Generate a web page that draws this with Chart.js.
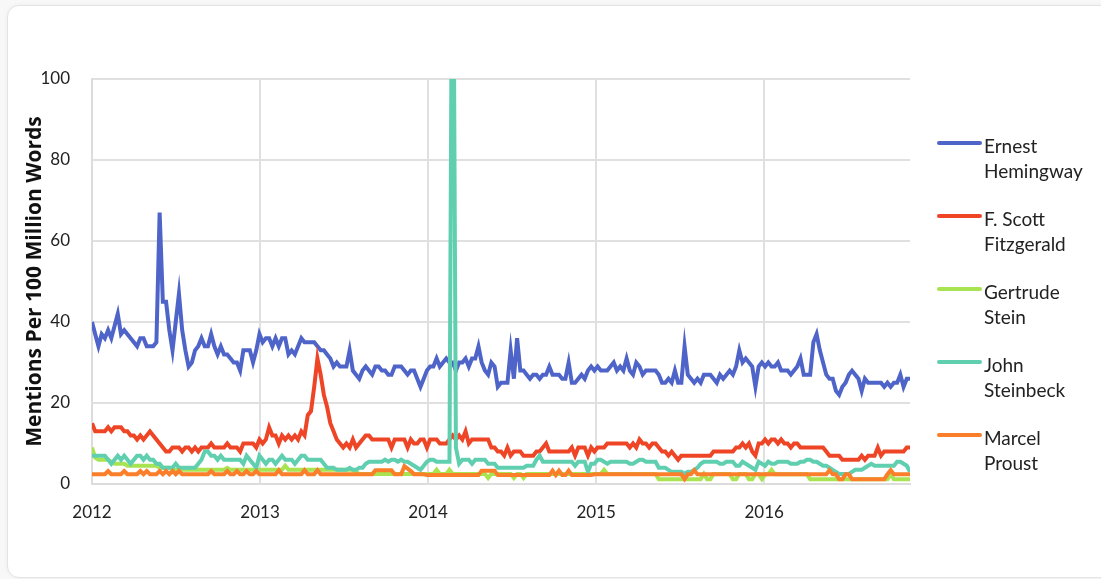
<!DOCTYPE html>
<html><head><meta charset="utf-8">
<script src="https://cdn.jsdelivr.net/npm/chart.js@4.4.0/dist/chart.umd.min.js"></script>
<style>
html,body{margin:0;padding:0;background:#f8f8f8;width:1101px;height:579px;overflow:hidden;}
.card{position:absolute;left:7px;top:5px;width:1120px;height:571px;background:#fff;border:1px solid #e4e4e4;border-radius:12px;box-shadow:0 0 4px rgba(0,0,0,0.05);}
canvas{position:absolute;left:0;top:0;}
</style></head>
<body><div class="card"></div><canvas id="c" width="1101" height="579"></canvas>
<script>
// ---- data (weekly, starting first week of 2012) ----
const startYear = 2012;
const yearTicks = [2012, 2013, 2014, 2015, 2016];
const authors = ["Ernest Hemingway", "F. Scott Fitzgerald", "Gertrude Stein", "John Steinbeck", "Marcel Proust"];
const legendLines = [["Ernest","Hemingway"],["F. Scott","Fitzgerald"],["Gertrude","Stein"],["John","Steinbeck"],["Marcel","Proust"]];
const colors = ["#4f64c8", "#ef4527", "#a8e451", "#5fcfb0", "#fb7f2a"];

const hemingway = [
 40,37,34,37,36,38,36,39,42,37, 38,37,36,35,34,36,36,34,34,34, 35,67,45,45,38,33,40,47,38,33, 29,30,33,34,36,34,34,37,34,32, 34,32,32,31,30,30,28,33,33,33, 30,33,
 37,35,36,36,34,36,34,36,36,32, 33,32,34,36,35,35,35,35,34,33, 33,32,31,29,30,29,29,29,33,28, 27,26,28,29,28,27,29,29,28,28, 27,27,29,29,29,28,27,28,28,26, 24,26,
 28,29,29,31,29,30,31,30,30,28, 30,30,31,29,31,31,34,30,28,27, 30,29,24,25,25,25,33,26,36,28, 28,27,26,27,27,26,27,27,29,27, 27,27,26,26,30,25,25,26,27,26, 28,29,
 28,29,28,28,28,29,30,28,29,28, 31,28,27,30,29,27,28,28,28,28, 27,25,25,26,25,28,25,25,34,27, 26,25,26,25,27,27,27,26,25,27, 26,27,28,27,29,33,30,31,30,29, 24,29,
 30,29,30,29,29,30,28,28,28,27, 28,29,31,27,27,27,35,37,33,30, 27,26,26,23,22,24,25,27,28,27, 26,23,26,25,25,25,25,25,24,25, 24,25,25,27,24,26,26
];
const fitzgerald = [
 15,13,13,13,13,14,13,14,14,14, 13,13,12,12,11,12,11,12,13,12, 11,10,9,8,8,9,9,9,8,9, 9,8,9,8,9,9,9,10,9,9, 9,9,10,9,9,9,8,10,10,10, 10,9,
 11,10,11,14,12,12,10,12,11,12, 11,12,11,13,12,17,18,24,31,27, 22,19,15,13,11,10,9,10,9,11, 9,10,11,12,12,11,11,11,11,11, 11,9,11,11,11,11,9,11,10,10, 11,11,
 9,11,11,11,10,10,10,11,12,11, 12,11,13,10,11,11,11,11,11,11, 9,9,8,8,7,9,7,8,8,8, 7,7,7,7,8,8,9,10,8,8, 8,8,8,8,8,9,7,9,9,9, 7,9,
 8,9,9,9,10,10,10,10,10,10, 10,9,10,9,11,10,10,9,10,10, 9,8,8,7,8,7,6,7,7,7, 7,7,7,7,7,7,7,8,8,8, 8,8,8,8,9,9,10,9,10,8, 7,10,
 10,11,10,11,11,10,11,10,10,9, 10,10,9,9,9,9,9,9,9,9, 8,7,7,7,7,6,6,6,6,6, 6,7,6,7,7,7,9,7,8,8, 8,8,8,8,8,9,9
];
const stein = [
 9,6.5,6,6,6,6,5.5,5,5,5, 5,4.5,4.5,4.5,4.5,4.5,4.5,4.5,4.5,4.5, 4.5,4,4,4,4,3.5,3.5,3.5,3.5,3.5, 3.5,3.5,3.5,3.5,3.5,3.5,3.5,3.5,3.5,3.5, 3.5,3.5,4,3.5,3.5,3.5,3.5,3.5,3.5,3.5, 3.5,3.5,
 3.5,3.5,3.5,3.5,3.5,3.5,3.5,3.5,4.5,3.5, 3.5,3.5,3.5,3.5,3.5,3.5,3.5,3.5,3.5,3.5, 3.5,3.5,3.5,3.5,3.5,3.5,3.5,3.5,3.5,3.5, 3,2.5,2.5,2.5,2.5,2.5,2.5,2.5,2.5,2.5, 2.5,2.5,2.5,2.5,2.5,2.5,2.5,2.5,2.5,2.5, 2.5,2.5,
 2.5,2.5,2.5,3.5,2.5,2.5,2.5,3.5,2.5,2.5, 2.5,2.5,2.5,2.5,2.5,2.5,2.5,2.5,2.5,1.5, 2.5,2.5,2.5,2.5,2.5,2.5,2.5,1.5,2.5,2.5, 1.5,2.5,2.5,2.5,2.5,2.5,2.5,2.5,2.5,2.5, 2.5,2.5,2.5,2.5,2.5,2.5,2.5,2.5,2.5,2.5, 2.5,2.5,
 2.5,2.5,2.5,3.5,2.5,2.5,2.5,2.5,2.5,2.5, 2.5,2.5,2.5,2.5,2.5,2.5,2.5,2.5,2.5,2.5, 1.2,1.2,1.2,1.2,1.2,1.2,1.2,1.2,1.2,1.2, 1.2,1.2,1.2,1.2,2.5,1.2,1.2,2.5,2.5,2.5, 2.5,2.5,2.5,1.2,1.2,2.5,2.5,2.5,1.2,1.2, 2.5,2.5,
 1.2,2.4,2.4,3.5,2.4,2.4,2.4,2.4,2.4,2.4, 2.4,2.4,2.4,2.4,2.4,1.2,1.2,1.2,1.2,1.2, 1.2,1.2,1.2,1.2,1.2,1.2,1.2,1.2,1.2,1.2, 1.2,1.2,1.2,1.2,1.2,1.2,1.2,1.2,1.2,1.2, 2.4,1.2,1.2,1.2,1.2,1.2,1.2
];
const steinbeck = [
 7,7,7,7,7,6,5,6,7,6, 7,6,5,6,7,7,6,7,6,6, 5,5,4,4,4,4,5,4,4,4, 4,4,4,5,6,8,8,7,7,6, 7,6,6,6,6,6,6,5,7,6, 5,4,
 7,6,5,6,6,5,6,7,6,6, 6,5,6,7,7,6,6,6,6,6, 5,4,4,4,3.5,3.5,3.5,3.5,4,3.5, 3.5,4,4,5,5.5,5.5,5.5,5.5,5.5,6, 5.5,6,6,5.5,6,5.5,5.5,5,4.5,4, 3.5,4.5,
 5.5,6,6,5.5,5.5,5.5,5.5,5.5,170,9, 5,6,6,6,5,6,6,6,6,5, 5,5,4,4,4,4,4,4,4,4, 4,4.5,4.5,4.5,6,7,5.5,5.5,5.5,5.5, 5.5,5.5,5.5,5.5,5.5,5.5,4.5,5.5,5.5,5.5, 3,5,
 5,6,6,5.5,5,5.5,5.5,5.5,5.5,5.5, 5.5,5,5,5.5,6,6,5.5,5.5,5.5,5.5, 4,4,4,3.5,3,3,3,3,2.5,3, 3,3.5,4,5,5.5,5.5,5.5,5.5,5.5,5, 5,5.5,5.5,5.5,4.5,4.5,5.5,5,4.5,4, 3.5,5.5,
 5,4.5,5.5,5,5,5.5,5.5,5.5,5.5,5, 5,5,5.5,5.5,6,6,5.5,5.5,5,4.5, 4.5,4,3.5,3,2.5,2.5,2.5,2.5,3,3.5, 3.5,3.5,4,4.5,5,4.5,4.5,4.5,4.5,4.5, 4.5,4.5,5.5,5.5,5,4.5,3
];
const proust = [
 2.4,2.4,2.4,2.4,2.4,3.2,2.4,2.4,2.4,2.4, 3.2,2.4,2.4,2.4,2.4,3.2,2.4,3.2,2.4,2.4, 2.4,3.2,2.4,3.2,2.4,3.2,2.4,3.2,2.4,2.4, 2.4,2.4,2.4,2.4,2.4,2.4,2.4,3.2,2.4,2.4, 2.4,2.4,3.2,2.4,2.4,3.2,2.4,2.4,3.2,2.4, 2.4,3.2,
 2.4,2.4,2.4,2.4,2.4,2.4,3.4,2.4,2.4,2.4, 2.4,2.4,2.4,2.4,3.4,2.4,2.4,2.4,3.4,2.4, 2.4,2.4,2.4,2.4,2.4,2.4,2.4,2.4,2.4,2.4, 2.4,2.4,2.4,2.4,2.4,2.4,3.4,3.4,3.4,3.4, 3.4,3.4,2.4,2.4,2.4,4.4,3.8,3.2,2.4,2.4, 2.4,2.4,
 2.2,2.2,2.2,2.2,2.2,2.2,2.2,2.2,2.2,2.2, 2.2,2.2,2.2,2.2,2.2,2.2,2.2,3.3,3.3,3.3, 3.3,3.3,2.2,2.2,2.2,2.2,2.2,2.2,2.2,2.2, 2.2,2.2,2.2,2.2,2.2,2.2,2.2,2.2,2.2,3.3, 2.2,3.3,2.2,2.2,3.3,2.2,2.2,2.2,2.2,2.2, 2.2,2.2,
 2.4,2.4,2.4,2.4,2.4,2.4,2.4,2.4,2.4,2.4, 2.4,2.4,2.4,2.4,2.4,2.4,2.4,2.4,2.4,2.4, 2.4,2.4,2.4,2.4,2.4,2.4,2.4,2.4,1.2,2.4, 2.4,3.4,2.4,2.4,2.4,2.4,2.4,2.4,2.4,2.4, 2.4,2.4,2.4,2.4,2.4,2.4,2.4,2.4,2.4,2.4, 2.4,2.4,
 2.4,2.4,2.4,2.4,2.4,2.4,2.4,2.4,2.4,2.4, 2.4,2.4,2.4,2.4,2.4,2.4,2.4,2.4,2.4,2.4, 2.4,3.4,2.4,2.4,1.2,1.2,2.4,2.4,1.2,1.2, 1.2,1.2,1.2,1.2,1.2,1.2,1.2,1.2,1.2,2.4, 3.4,2.4,2.4,2.4,2.4,2.4,2.4
];
const seriesValues = [hemingway, fitzgerald, stein, steinbeck, proust];
const yTicks = [0, 20, 40, 60, 80, 100];

// week positions as fractional years
const weekYears = hemingway.map((_, i) => startYear + i * 7 / 365.25);

const FONT = 'Lato';
const TITLE_FONT = 'Open Sans';

const sideLegend = {
  id: 'sideLegend',
  afterDraw(chart) {
    const ctx = chart.ctx;
    const x0 = chart.chartArea.right + 29;
    ctx.save();
    legendLines.forEach((lines, i) => {
      const y = 143 + i * 73;
      ctx.strokeStyle = colors[i];
      ctx.lineWidth = 4;
      ctx.lineCap = 'round';
      ctx.beginPath();
      ctx.moveTo(x0, y);
      ctx.lineTo(x0 + 41, y);
      ctx.stroke();
      ctx.fillStyle = '#222';
      ctx.font = '19px ' + FONT;
      ctx.textAlign = 'left';
      ctx.textBaseline = 'alphabetic';
      lines.forEach((t, j) => ctx.fillText(t, x0 + 45, y + 9.5 + j * 25));
    });
    ctx.restore();
  }
};

function build() {
  const datasets = authors.map((name, i) => ({
    label: name,
    data: seriesValues[i].map((v, k) => ({x: weekYears[k], y: v})),
    borderColor: colors[i],
    backgroundColor: colors[i],
    borderWidth: 4,
    pointRadius: 0,
    tension: 0,
    fill: false,
    order: authors.length - i
  }));
  new Chart(document.getElementById('c'), {
    type: 'line',
    data: { datasets },
    plugins: [sideLegend],
    options: {
      responsive: false,
      animation: false,
      devicePixelRatio: 1,
      layout: { padding: { top: 79, right: 191, left: 0, bottom: 0 } },
      plugins: { legend: { display: false }, tooltip: { enabled: false } },
      scales: {
        x: {
          type: 'linear',
          min: startYear,
          max: weekYears[weekYears.length - 1],
          afterFit(s) { s.height = 95; },
          afterBuildTicks(s) { s.ticks = yearTicks.map(v => ({ value: v })); },
          ticks: { padding: 18, color: '#222', font: { family: FONT, size: 17 }, maxRotation: 0, autoSkip: false,
                   callback: v => String(v) },
          grid: { color: '#e0e0e0', lineWidth: 2, drawTicks: false },
          border: { color: '#dcdcdc', width: 2 }
        },
        y: {
          min: 0, max: 100,
          afterFit(s) { s.width = 92; },
          afterBuildTicks(s) { s.ticks = yTicks.map(v => ({ value: v })); },
          ticks: { padding: 22, color: '#222', font: { family: FONT, size: 17 } },
          grid: { color: '#e0e0e0', lineWidth: 2, drawTicks: false },
          border: { color: '#dcdcdc', width: 2 },
          title: { display: true, text: 'Mentions Per 100 Million Words', color: '#111',
                   font: { family: TITLE_FONT, size: 21, weight: '700' }, padding: { top: 22, bottom: 0 } }
        }
      }
    }
  });
}
const fontLoads = [document.fonts.load('17px ' + FONT), document.fonts.load('700 21px "' + TITLE_FONT + '"'), document.fonts.load('19px ' + FONT)];
Promise.all(fontLoads).then(build, build);
</script>
</body></html>
